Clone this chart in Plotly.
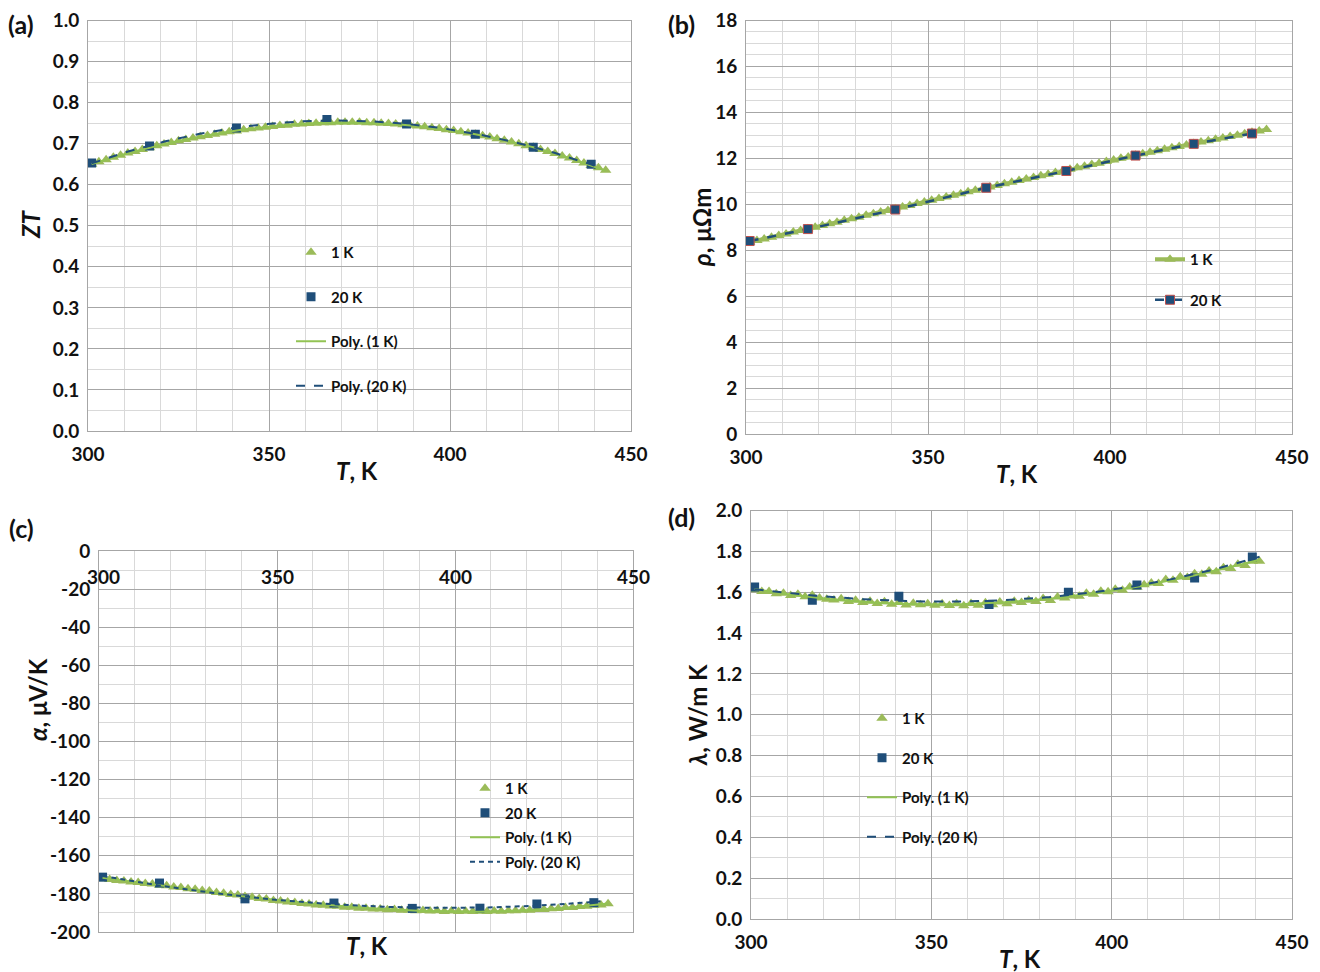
import numpy as np
import plotly.graph_objects as go

# ---------------- data ----------------
T1 = list(range(301, 444, 2))          # 1 K step measurement temperatures (every 2nd point shown)
T1d = list(range(301, 442, 2))
T20 = [301, 317, 341, 366, 388, 407, 423, 439]

ZT_1K = [0.650, 0.656, 0.661, 0.667, 0.672, 0.677, 0.681, 0.686, 0.690, 0.695,
         0.699, 0.703, 0.707, 0.710, 0.714, 0.717, 0.720, 0.723, 0.726, 0.729,
         0.731, 0.734, 0.736, 0.738, 0.740, 0.742, 0.744, 0.745, 0.747, 0.748,
         0.749, 0.750, 0.751, 0.751, 0.752, 0.752, 0.752, 0.752, 0.751, 0.751,
         0.750, 0.749, 0.748, 0.746, 0.745, 0.743, 0.741, 0.739, 0.737, 0.734,
         0.732, 0.729, 0.726, 0.723, 0.719, 0.716, 0.712, 0.708, 0.704, 0.700,
         0.695, 0.691, 0.686, 0.681, 0.676, 0.670, 0.665, 0.659, 0.653, 0.647,
         0.641, 0.635]
ZT_20K = [0.653, 0.694, 0.738, 0.759, 0.748, 0.723, 0.691, 0.650]

rho_1K = [8.35, 8.42, 8.49, 8.57, 8.64, 8.71, 8.79, 8.86, 8.93, 9.00,
          9.08, 9.15, 9.22, 9.30, 9.37, 9.44, 9.52, 9.59, 9.66, 9.73,
          9.81, 9.88, 9.95, 10.03, 10.10, 10.17, 10.25, 10.32, 10.39, 10.46,
          10.54, 10.61, 10.68, 10.75, 10.82, 10.89, 10.96, 11.03, 11.10, 11.17,
          11.24, 11.31, 11.38, 11.45, 11.52, 11.59, 11.66, 11.73, 11.79, 11.86,
          11.93, 12.00, 12.06, 12.13, 12.20, 12.26, 12.33, 12.39, 12.46, 12.52,
          12.58, 12.65, 12.71, 12.77, 12.83, 12.89, 12.95, 13.01, 13.07, 13.13,
          13.19, 13.25]
rho_20K = [8.40, 8.92, 9.77, 10.72, 11.45, 12.12, 12.63, 13.08]

alpha_1K = [-172.0, -172.4, -173.0, -173.2, -173.8, -174.0, -174.6, -174.8, -175.5, -175.7,
            -176.4, -176.7, -177.3, -177.6, -178.2, -178.5, -179.2, -179.6, -180.3, -180.6,
            -181.3, -181.7, -182.4, -182.7, -183.4, -183.7, -184.3, -184.5, -185.1, -185.3,
            -185.8, -185.9, -186.4, -186.5, -187.0, -187.0, -187.5, -187.5, -187.9, -187.9,
            -188.3, -188.2, -188.6, -188.5, -188.8, -188.7, -189.0, -188.9, -189.2, -189.0,
            -189.3, -189.1, -189.3, -189.1, -189.2, -189.0, -189.1, -188.8, -188.9, -188.6,
            -188.6, -188.2, -188.2, -187.8, -187.7, -187.2, -187.1, -186.6, -186.5, -185.9,
            -185.8, -185.2]
alpha_20K = [-171.2, -174.3, -182.6, -184.8, -187.6, -187.5, -185.3, -184.6]

lambda_1K = [1.612, 1.603, 1.604, 1.592, 1.595, 1.584, 1.590, 1.578, 1.585, 1.572,
             1.566, 1.562, 1.568, 1.555, 1.561, 1.550, 1.556, 1.545, 1.553, 1.541,
             1.549, 1.537, 1.546, 1.538, 1.543, 1.536, 1.544, 1.535, 1.543, 1.534,
             1.545, 1.536, 1.548, 1.539, 1.552, 1.543, 1.556, 1.550, 1.561, 1.555,
             1.569, 1.559, 1.577, 1.572, 1.582, 1.580, 1.595, 1.590, 1.605, 1.602,
             1.614, 1.610, 1.626, 1.624, 1.636, 1.645, 1.642, 1.662, 1.658, 1.676,
             1.672, 1.690, 1.688, 1.704, 1.700, 1.720, 1.716, 1.737, 1.731, 1.752,
             1.752]
lambda_20K = [1.625, 1.560, 1.580, 1.540, 1.600, 1.635, 1.670, 1.772]

x_ticks = [300, 350, 400, 450]

# ---------------- styles ----------------
GREEN = "#9bbb59"
GREEN_LINE = "#92c353"
NAVY = "#1f4e79"
MAJOR = "#a6a6a6"
MINOR = "#d9d9d9"
FONT = "Lato"
TXT = "#111111"

W, H = 1320, 972


def px_x(p):
    return p / W


def px_y(p):
    return 1 - p / H


fig = go.Figure()


def poly(x, y, deg, x_lo, x_hi):
    c = np.polyfit(x, y, deg)
    xs = np.linspace(x_lo, x_hi, 200)
    return xs, np.polyval(c, xs)


def add_panel(xa, ya, leg, T1s, y1, y2, deg, dash="dash"):
    fig.add_trace(go.Scatter(x=T1s, y=y1, mode="markers", name="1 K",
                             marker=dict(symbol="triangle-up", size=10, color=GREEN),
                             xaxis=xa, yaxis=ya, legend=leg, legendgroup=leg + "a"))
    fig.add_trace(go.Scatter(x=T20, y=y2, mode="markers", name="20 K",
                             marker=dict(symbol="square", size=9, color=NAVY),
                             xaxis=xa, yaxis=ya, legend=leg, legendgroup=leg + "b"))
    xs, ys = poly(T1s, y1, deg, T1s[0], T1s[-1])
    fig.add_trace(go.Scatter(x=xs, y=ys, mode="lines", name="Poly. (1 K)",
                             line=dict(color=GREEN_LINE, width=2),
                             xaxis=xa, yaxis=ya, legend=leg, legendgroup=leg + "c"))
    xs, ys = poly(T20, y2, deg, T20[0], T20[-1] + 2)
    fig.add_trace(go.Scatter(x=xs, y=ys, mode="lines", name="Poly. (20 K)",
                             line=dict(color=NAVY, width=2, dash=dash),
                             xaxis=xa, yaxis=ya, legend=leg, legendgroup=leg + "d"))


# (a)
add_panel("x", "y", "legend", T1, ZT_1K, ZT_20K, 3)

# (b)
fig.add_trace(go.Scatter(x=T1, y=rho_1K, mode="lines+markers", name="1 K",
                         line=dict(color=GREEN, width=4),
                         marker=dict(symbol="triangle-up", size=10, color=GREEN),
                         xaxis="x2", yaxis="y2", legend="legend2", legendgroup="b1"))
fig.add_trace(go.Scatter(x=T20, y=rho_20K, mode="lines+markers", name="20 K",
                         line=dict(color=NAVY, width=2.5, dash="dash"),
                         marker=dict(symbol="square", size=9, color=NAVY,
                                     line=dict(color="#c0504d", width=1)),
                         xaxis="x2", yaxis="y2", legend="legend2", legendgroup="b2"))

# (c)
add_panel("x3", "y3", "legend3", T1, alpha_1K, alpha_20K, 3, dash="5px,4px")

# (d)
add_panel("x4", "y4", "legend4", T1d, lambda_1K, lambda_20K, 3)

tickfont = dict(family=FONT, size=19, color=TXT, weight=700)


def xaxis(dom, anchor, **kw):
    d = dict(domain=dom, anchor=anchor, range=[300, 450], tickvals=x_ticks,
             showgrid=True, gridcolor=MAJOR, gridwidth=1,
             minor=dict(dtick=10, tick0=300, showgrid=True, gridcolor=MINOR, gridwidth=1),
             showline=True, linecolor=MAJOR, linewidth=1, mirror=True,
             ticks="", zeroline=False, tickfont=tickfont, fixedrange=True,
             automargin=False, ticklabelstandoff=6)
    d.update(kw)
    return d


def yaxis(dom, anchor, rng, dtick, minor, fmt, **kw):
    d = dict(domain=dom, anchor=anchor, range=rng, dtick=dtick, tick0=rng[0],
             tickformat=fmt,
             showgrid=True, gridcolor=MAJOR, gridwidth=1,
             minor=dict(dtick=minor, showgrid=True, gridcolor=MINOR, gridwidth=1),
             showline=True, linecolor=MAJOR, linewidth=1, mirror=True,
             ticks="", zeroline=False, tickfont=tickfont, fixedrange=True,
             automargin=False, ticklabelstandoff=4)
    d.update(kw)
    return d


alpha_ticks = list(range(-200, 1, 20))

fig.update_layout(
    width=W, height=H,
    margin=dict(l=0, r=0, t=0, b=0, pad=0, autoexpand=False),
    paper_bgcolor="white", plot_bgcolor="white",
    font=dict(family=FONT, color=TXT),
    xaxis=xaxis([px_x(88), px_x(631)], "y"),
    yaxis=yaxis([px_y(431), px_y(20.5)], "x", [0, 1.0], 0.1, 0.05, ".1f"),
    xaxis2=xaxis([px_x(746), px_x(1292)], "y2"),
    yaxis2=yaxis([px_y(434), px_y(20.5)], "x2", [0, 18], 2, 0.5, "d"),
    xaxis3=xaxis([px_x(99), px_x(633)], "y3", side="top", showticklabels=False),
    yaxis3=yaxis([px_y(932), px_y(551)], "x3", [-200, 0], 20, 10, "d",
                 tickvals=alpha_ticks, ticktext=[str(v) for v in alpha_ticks]),
    xaxis4=xaxis([px_x(751), px_x(1292)], "y4"),
    yaxis4=yaxis([px_y(919), px_y(510.5)], "x4", [0, 2.0], 0.2, 0.1, ".1f"),
)

legfont = dict(family=FONT, size=15, color=TXT, weight=700)
common_leg = dict(bgcolor="rgba(0,0,0,0)", borderwidth=0, font=legfont,
                  xanchor="left", yanchor="top", itemwidth=30)
fig.update_layout(
    legend=dict(x=px_x(291), y=px_y(236), tracegroupgap=22, **common_leg),
    legend2=dict(x=px_x(1150), y=px_y(243), tracegroupgap=18, **common_leg),
    legend3=dict(x=px_x(465), y=px_y(772), tracegroupgap=2, **common_leg),
    legend4=dict(x=px_x(862), y=px_y(702), tracegroupgap=17, **common_leg),
)

# x tick labels of panel (c), drawn just below the top axis line (y = 0)
for v in x_ticks:
    fig.add_annotation(text=str(v), x=v, y=0, xref="x3", yref="y3", yshift=-25,
                       xshift=4 if v == 300 else 0,
                       showarrow=False, xanchor="center", yanchor="middle",
                       font=tickfont)


def ann(text, x, y, angle=0, size=24, xanchor="center"):
    fig.add_annotation(text=text, x=px_x(x), y=px_y(y), xref="paper", yref="paper",
                       showarrow=False, textangle=angle, xanchor=xanchor, yanchor="middle",
                       font=dict(family=FONT, size=size, color=TXT, weight=700))


# panel labels
ann("(a)", 6, 24, xanchor="left", size=25)
ann("(b)", 666, 24, xanchor="left", size=25)
ann("(c)", 7, 528, xanchor="left", size=25)
ann("(d)", 666, 517, xanchor="left", size=25)

# axis titles
ann("<i>T</i>, K", 357, 470)
ann("<i>T</i>, K", 1017, 473)
ann("<i>T</i>, K", 367, 945)
ann("<i>T</i>, K", 1020, 958)
ann("<i>ZT</i>", 30, 225, angle=-90)
ann("<i>ρ</i>, μΩm", 702, 228, angle=-90)
ann("<i>α</i>, μV/K", 37, 700, angle=-90)
ann("<i>λ</i>, W/m K", 697, 715, angle=-90)

fig.write_html("out.html", config={"displayModeBar": False},
               post_script="document.body.style.margin='0';")
